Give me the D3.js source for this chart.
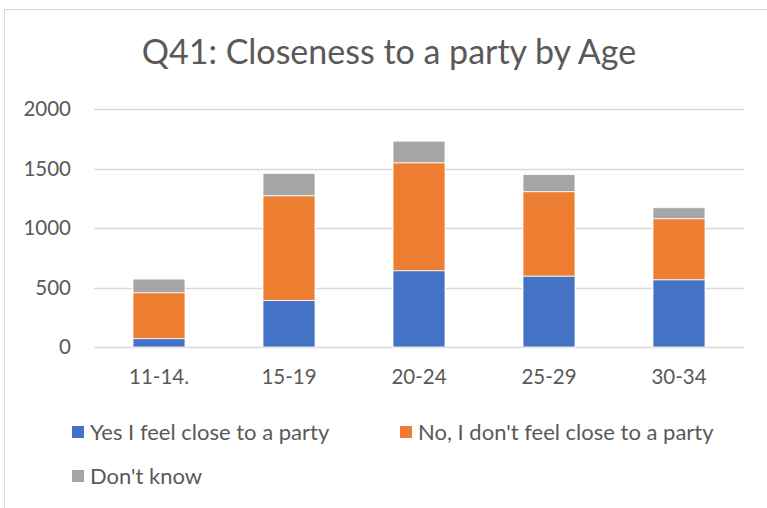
<!DOCTYPE html>
<html>
<head>
<meta charset="utf-8">
<script src="https://cdn.jsdelivr.net/npm/d3@7"></script>
<style>
  html, body { margin: 0; padding: 0; background: #fff; }
  svg { display: block; font-family: Lato, "Open Sans", sans-serif; }
</style>
</head>
<body>
<svg id="chart" width="767" height="508"></svg>
<script>
// Age groups and stacked response counts
const categories = ["11-14.", "15-19", "20-24", "25-29", "30-34"];
const seriesNames = ["Yes I feel close to a party", "No, I don't feel close to a party", "Don't know"];
const yesValues = [70, 392, 641, 596, 565];
const noValues = [386, 879, 907, 709, 513];
const dontKnowValues = [115, 188, 182, 145, 92];
const yTicks = [0, 500, 1000, 1500, 2000];
const colors = ["#4472C4", "#ED7D31", "#A5A5A5"];

const svg = d3.select("#chart");
const textColor = "#595959";
const fontFamily = "Lato, 'Open Sans', sans-serif";

// outer chart frame
svg.append("rect")
  .attr("x", 4.5).attr("y", 9.5)
  .attr("width", 780).attr("height", 520)
  .attr("fill", "#fff").attr("stroke", "#d9d9d9").attr("stroke-width", 1);

// title
svg.append("text")
  .attr("x", 389).attr("y", 64)
  .attr("text-anchor", "middle")
  .attr("font-size", 34)
  .attr("fill", textColor)
  .text("Q41: Closeness to a party by Age");

const plot = { left: 94, right: 744, top: 109, bottom: 347 };

const x = d3.scaleBand()
  .domain(categories)
  .range([plot.left, plot.right])
  .paddingInner(0.6)
  .paddingOuter(0.3);

const y = d3.scaleLinear()
  .domain([0, 2000])
  .range([plot.bottom, plot.top]);

// gridlines
svg.append("g")
  .selectAll("line")
  .data(yTicks)
  .join("line")
  .attr("x1", plot.left).attr("x2", plot.right)
  .attr("y1", d => Math.round(y(d)) + 0.5)
  .attr("y2", d => Math.round(y(d)) + 0.5)
  .attr("stroke", "#d9d9d9").attr("stroke-width", 1.3);

// y axis labels
const yAxis = d3.axisLeft(y).tickValues(yTicks).tickFormat(d3.format("d")).tickSize(0).tickPadding(0);
const yg = svg.append("g").attr("transform", `translate(${plot.left - 23},0)`).call(yAxis);
yg.select(".domain").remove();
yg.selectAll("text")
  .attr("font-family", fontFamily)
  .attr("font-size", 20.5).attr("fill", textColor);

// x axis labels
const xAxis = d3.axisBottom(x).tickSize(0).tickPadding(0);
const xg = svg.append("g").attr("transform", `translate(0,${plot.bottom + 22})`).call(xAxis);
xg.select(".domain").remove();
xg.selectAll("text")
  .attr("font-family", fontFamily)
  .attr("font-size", 20.5).attr("fill", textColor);

// stacked bars
const rows = categories.map((c, i) => ({
  cat: c, yes: yesValues[i], no: noValues[i], dk: dontKnowValues[i]
}));
const stack = d3.stack().keys(["yes", "no", "dk"]);
const layers = stack(rows);

svg.append("g")
  .selectAll("g")
  .data(layers)
  .join("g")
  .attr("fill", (d, i) => colors[i])
  .selectAll("rect")
  .data(d => d)
  .join("rect")
  .attr("x", d => x(d.data.cat))
  .attr("width", x.bandwidth())
  .attr("y", d => y(d[1]))
  .attr("height", d => y(d[0]) - y(d[1]))
  .attr("stroke", "#fff").attr("stroke-width", 0.8);

// legend
const legendItems = [
  { name: seriesNames[0], color: colors[0], x: 72, y: 432 },
  { name: seriesNames[1], color: colors[1], x: 400, y: 432 },
  { name: seriesNames[2], color: colors[2], x: 72, y: 476 }
];
const lg = svg.append("g")
  .selectAll("g")
  .data(legendItems)
  .join("g")
  .attr("transform", d => `translate(${d.x},${d.y})`);
lg.append("rect")
  .attr("x", 0).attr("y", -6)
  .attr("width", 12).attr("height", 12)
  .attr("fill", d => d.color);
lg.append("text")
  .attr("x", 18).attr("y", 0)
  .attr("dy", "0.35em")
  .attr("font-size", 22)
  .attr("fill", textColor)
  .text(d => d.name);
</script>
</body>
</html>
